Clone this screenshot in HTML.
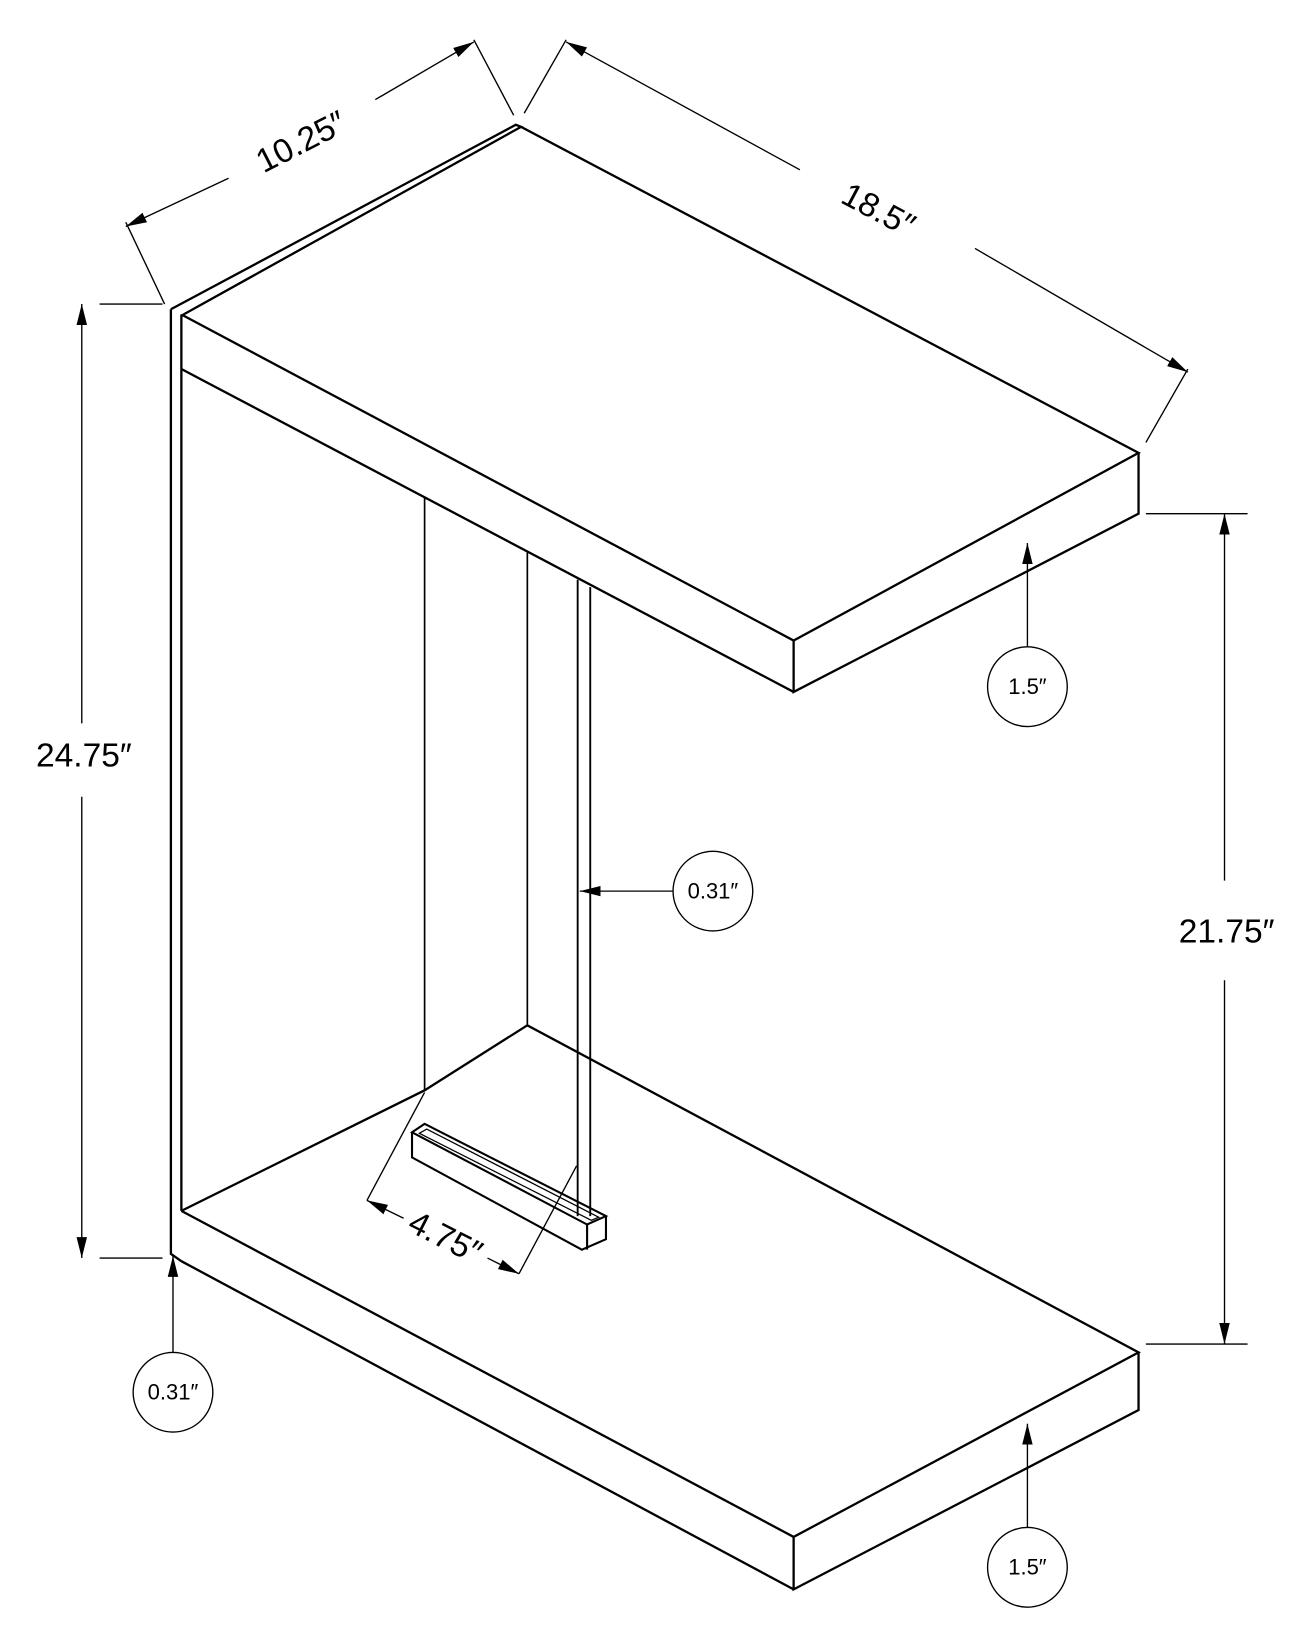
<!DOCTYPE html>
<html><head><meta charset="utf-8"><style>html,body{margin:0;padding:0;background:#fff}svg{display:block}</style></head>
<body>
<svg width="1300" height="1636" viewBox="0 0 1240 1560.5" xmlns="http://www.w3.org/2000/svg" font-family="Liberation Sans, sans-serif">
<defs>
<marker id="b" viewBox="0 0 20 10" refX="20" refY="5" markerWidth="20" markerHeight="11" markerUnits="userSpaceOnUse" orient="auto"><path d="M0,0 L20,5 L0,10 z" fill="#000"/></marker></defs>
<g stroke="#000" stroke-width="2.2" fill="none" stroke-linejoin="miter">
<path d="M163,295 V1196 L173,1203"/>
<path d="M173,300 V1155"/>
<path d="M163,295 L492,119 L497,121 L175,300"/>
<path d="M173,300 L757,611 L1086,432 L497,121"/>
<path d="M1086,432 V490 L757,660 V611"/>
<path d="M173,352 L757,660"/>
<path d="M405,475 V1040" stroke-width="1.6"/>
<path d="M503,527 V978" stroke-width="1.6"/>
<path d="M551,553 V1160 M563,560 V1160" stroke-width="1.8"/>
<path d="M173,1155 L757,1466 L1086,1290 L503,978 L405,1040 L173,1155"/>
<path d="M1086,1290 V1345 L757,1516 V1466"/>
<path d="M173,1203 L757,1516"/>
<path d="M393,1080 L405,1072 L578,1160 L560,1168 Z" stroke-width="2"/>
<path d="M400,1081 L407,1077 L571,1161 L564,1164 Z" stroke-width="1.2"/>
<path d="M393,1080 V1104 L555,1192 L578,1182 V1160 M560,1168 V1192" stroke-width="2"/>
</g>
<g stroke="#000" stroke-width="1.3" fill="none">
<path d="M120,212 L157,290 M452,38 L490,110"/>
<path d="M218,170 L120,216" marker-end="url(#b)"/>
<path d="M358,95 L452,40" marker-end="url(#b)"/>
<path d="M500,108 L540,38 M1093,422 L1133,352"/>
<path d="M763,162 L540,40" marker-end="url(#b)"/>
<path d="M930,237 L1133,355" marker-end="url(#b)"/>
<path d="M95,290 H155 M95,1200 H155"/>
<path d="M78,690 V290" marker-end="url(#b)"/>
<path d="M78,760 V1200" marker-end="url(#b)"/>
<path d="M1093,490 H1190 M1093,1282 H1190"/>
<path d="M1168,840 V490" marker-end="url(#b)"/>
<path d="M1168,935 V1282" marker-end="url(#b)"/>
<circle cx="980" cy="655" r="38"/><path d="M980,617 V518" marker-end="url(#b)"/>
<circle cx="980" cy="1495" r="38"/><path d="M980,1457 V1358" marker-end="url(#b)"/>
<circle cx="680" cy="850" r="38"/><path d="M642,850 H553" marker-end="url(#b)"/>
<circle cx="165" cy="1328" r="38"/><path d="M165,1290 V1198" marker-end="url(#b)"/>
<path d="M405,1042 L350,1145 M550,1112 L495,1215"/>
<path d="M385,1162 L350,1145" marker-end="url(#b)"/>
<path d="M465,1200 L495,1215" marker-end="url(#b)"/>
</g>
<g fill="#000" font-size="32">
<text x="287" y="146" text-anchor="middle" transform="rotate(-27 287 135)">10.25″</text>
<text x="838" y="211" text-anchor="middle" transform="rotate(28 838 200)">18.5″</text>
<text x="80" y="731" text-anchor="middle">24.75″</text>
<text x="1170" y="899" text-anchor="middle">21.75″</text>
<text x="425" y="1191" text-anchor="middle" transform="rotate(27 425 1180)">4.75″</text>
</g>
<g fill="#000" font-size="21" text-anchor="middle">
<text x="980" y="662">1.5″</text>
<text x="980" y="1502">1.5″</text>
<text x="680" y="857">0.31″</text>
<text x="165" y="1335">0.31″</text>
</g>
</svg>
</body></html>
